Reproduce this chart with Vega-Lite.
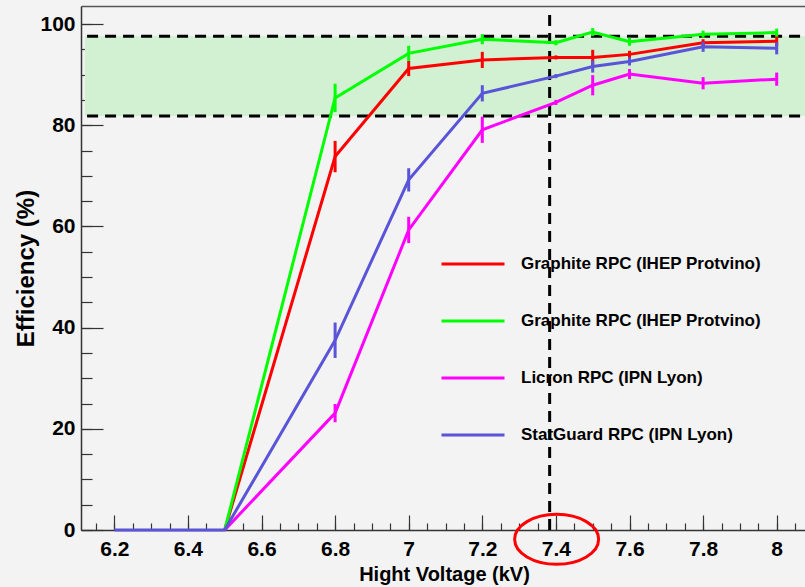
{
  "$schema": "https://vega.github.io/schema/vega-lite/v6.json",
  "width": 724,
  "height": 524,
  "autosize": {"type": "none"},
  "padding": {"left": 81, "top": 6, "right": 0, "bottom": 57},
  "background": "#f3f3f3",
  "config": {
    "view": {"stroke": null},
    "font": "Liberation Sans",
    "axis": {"grid": false, "tickColor": "#333", "domainColor": "#333", "labelColor": "#000", "titleColor": "#000", "labelFont": "Liberation Sans", "titleFont": "Liberation Sans"}
  },
  "datasets": {
    "pts": [
      {"s": "G1", "v": 6.5, "eff": 0, "lo": 0, "hi": 0},
      {"s": "G1", "v": 6.8, "eff": 73.8, "lo": 70.7, "hi": 76.9},
      {"s": "G1", "v": 7.0, "eff": 91.2, "lo": 89.7, "hi": 92.7},
      {"s": "G1", "v": 7.2, "eff": 92.9, "lo": 91.3, "hi": 94.5},
      {"s": "G1", "v": 7.4, "eff": 93.4, "lo": 93.0, "hi": 93.8},
      {"s": "G1", "v": 7.5, "eff": 93.4, "lo": 91.9, "hi": 94.9},
      {"s": "G1", "v": 7.6, "eff": 94.0, "lo": 93.3, "hi": 94.7},
      {"s": "G1", "v": 7.8, "eff": 96.3, "lo": 95.6, "hi": 97.0},
      {"s": "G1", "v": 8.0, "eff": 96.6, "lo": 95.6, "hi": 97.6},
      {"s": "G2", "v": 6.5, "eff": 0, "lo": 0, "hi": 0},
      {"s": "G2", "v": 6.8, "eff": 85.4, "lo": 82.6, "hi": 88.2},
      {"s": "G2", "v": 7.0, "eff": 94.2, "lo": 92.7, "hi": 95.7},
      {"s": "G2", "v": 7.2, "eff": 97.0, "lo": 96.0, "hi": 98.0},
      {"s": "G2", "v": 7.4, "eff": 96.3, "lo": 95.8, "hi": 96.8},
      {"s": "G2", "v": 7.5, "eff": 98.4, "lo": 97.6, "hi": 99.2},
      {"s": "G2", "v": 7.6, "eff": 96.5, "lo": 95.7, "hi": 97.3},
      {"s": "G2", "v": 7.8, "eff": 98.0, "lo": 97.3, "hi": 98.7},
      {"s": "G2", "v": 8.0, "eff": 98.3, "lo": 97.5, "hi": 99.1},
      {"s": "L", "v": 6.5, "eff": 0, "lo": 0, "hi": 0},
      {"s": "L", "v": 6.8, "eff": 23.1, "lo": 21.3, "hi": 24.9},
      {"s": "L", "v": 7.0, "eff": 59.3, "lo": 56.7, "hi": 61.9},
      {"s": "L", "v": 7.2, "eff": 79.1, "lo": 76.5, "hi": 81.7},
      {"s": "L", "v": 7.4, "eff": 84.5, "lo": 84.0, "hi": 85.0},
      {"s": "L", "v": 7.5, "eff": 87.9, "lo": 85.9, "hi": 89.9},
      {"s": "L", "v": 7.6, "eff": 90.1, "lo": 89.1, "hi": 91.1},
      {"s": "L", "v": 7.8, "eff": 88.3, "lo": 87.1, "hi": 89.5},
      {"s": "L", "v": 8.0, "eff": 89.1, "lo": 87.8, "hi": 90.4},
      {"s": "S", "v": 6.2, "eff": 0, "lo": 0, "hi": 0},
      {"s": "S", "v": 6.5, "eff": 0, "lo": 0, "hi": 0},
      {"s": "S", "v": 6.8, "eff": 37.5, "lo": 34.0, "hi": 41.0},
      {"s": "S", "v": 7.0, "eff": 69.2, "lo": 66.9, "hi": 71.5},
      {"s": "S", "v": 7.2, "eff": 86.3, "lo": 84.7, "hi": 87.9},
      {"s": "S", "v": 7.4, "eff": 89.7, "lo": 89.3, "hi": 90.1},
      {"s": "S", "v": 7.5, "eff": 91.6, "lo": 90.4, "hi": 92.8},
      {"s": "S", "v": 7.6, "eff": 92.6, "lo": 91.8, "hi": 93.4},
      {"s": "S", "v": 7.8, "eff": 95.5, "lo": 94.5, "hi": 96.5},
      {"s": "S", "v": 8.0, "eff": 95.2, "lo": 94.0, "hi": 96.4}
    ],
    "band": [{"x1": 6.12, "x2": 8.0769, "y1": 81.8, "y2": 97.6}],
    "hl": [{"x1": 6.126, "x2": 8.0769, "y": 97.6}, {"x1": 6.126, "x2": 8.0769, "y": 81.8}],
    "vl": [{"x": 7.383, "y1": 0, "y2": 103.0}],
    "mark": [{"x": 7.402, "y": -1.84}]
  },
  "resolve": {"axis": {"x": "independent", "y": "independent"}},
  "layer": [
    {
      "data": {"name": "band"},
      "mark": {"type": "rect", "color": "#d2f0d2"},
      "encoding": {
        "x": {"field": "x1", "type": "quantitative", "scale": {"domain": [6.1095, 8.0769], "nice": false, "zero": false},
          "axis": {"orient": "bottom", "values": [6.15,6.2,6.25,6.3,6.35,6.4,6.45,6.5,6.55,6.6,6.65,6.7,6.75,6.8,6.85,6.9,6.95,7.0,7.05,7.1,7.15,7.2,7.25,7.3,7.35,7.4,7.45,7.5,7.55,7.6,7.65,7.7,7.75,7.8,7.85,7.9,7.95,8.0,8.05],
            "tickSize": -7, "tickWidth": 1.2, "labels": false, "domain": false, "title": null}},
        "x2": {"field": "x2"},
        "y": {"field": "y1", "type": "quantitative", "scale": {"domain": [0, 103.56], "nice": false, "zero": false},
          "axis": {"orient": "left", "values": [0,5,10,15,20,25,30,35,40,45,50,55,60,65,70,75,80,85,90,95,100],
            "tickSize": -11, "tickWidth": 1.2, "labels": false, "domain": false, "title": null}},
        "y2": {"field": "y2"}
      }
    },
    {
      "data": {"name": "hl"},
      "mark": {"type": "rule", "color": "#000", "strokeWidth": 3, "strokeDash": [11, 7]},
      "encoding": {
        "x": {"field": "x1", "type": "quantitative", "scale": {"domain": [6.1095, 8.0769], "nice": false, "zero": false},
          "axis": {"orient": "top", "ticks": false, "labels": false, "domain": true, "domainColor": "#555", "domainWidth": 1.5, "title": null}},
        "x2": {"field": "x2"},
        "y": {"field": "y", "type": "quantitative", "scale": {"domain": [0, 103.56], "nice": false, "zero": false}, "axis": null}
      }
    },
    {
      "data": {"name": "vl"},
      "mark": {"type": "rule", "color": "#000", "strokeWidth": 3, "strokeDash": [11, 7]},
      "encoding": {
        "x": {"field": "x", "type": "quantitative", "scale": {"domain": [6.1095, 8.0769], "nice": false, "zero": false}, "axis": null},
        "y": {"field": "y1", "type": "quantitative", "scale": {"domain": [0, 103.56], "nice": false, "zero": false}, "axis": null},
        "y2": {"field": "y2"}
      }
    },
    {
      "data": {"name": "pts"},
      "mark": {"type": "line", "strokeWidth": 3},
      "encoding": {
        "x": {"field": "v", "type": "quantitative", "scale": {"domain": [6.1095, 8.0769], "nice": false, "zero": false},
          "axis": {"orient": "bottom", "values": [6.2,6.4,6.6,6.8,7.0,7.2,7.4,7.6,7.8,8.0], "format": "~g",
            "tickSize": -15, "tickWidth": 1.2, "labelPadding": 40, "labelBaseline": "alphabetic", "labelFontSize": 21, "labelFontWeight": "bold",
            "domainWidth": 1.5, "title": "Hight Voltage (kV)", "titleFontSize": 20, "titleFontWeight": "bold",
            "titleX": 363, "titleY": 50, "titleBaseline": "alphabetic", "titleAlign": "center"}},
        "y": {"field": "eff", "type": "quantitative", "scale": {"domain": [0, 103.56], "nice": false, "zero": false},
          "axis": {"orient": "left", "values": [0,20,40,60,80,100],
            "tickSize": -22, "tickWidth": 1.2, "labelPadding": 28, "labelFontSize": 21, "labelFontWeight": "bold", "labelBaseline": "middle",
            "domainWidth": 1.5, "title": "Efficiency (%)", "titleFontSize": 24, "titleFontWeight": "bold",
            "titleX": -48, "titleY": 262, "titleBaseline": "alphabetic", "titleAngle": -90, "titleAlign": "center"}},
        "color": {"field": "s", "type": "nominal",
          "scale": {"domain": ["G1", "G2", "L", "S"], "range": ["#ff0000", "#00ff00", "#ff00ff", "#5954d8"]},
          "legend": {"orient": "none", "legendX": 359, "legendY": 225, "title": null,
            "symbolType": "stroke", "symbolSize": 3969, "symbolStrokeWidth": 3, "labelOffset": 15, "labelLimit": 400,
            "labelFontSize": 17, "labelFontWeight": "bold", "labelFont": "Liberation Sans", "labelColor": "#000", "rowPadding": 16,
            "labelExpr": "datum.label == 'L' ? 'Licron RPC (IPN Lyon)' : datum.label == 'S' ? 'StatGuard RPC (IPN Lyon)' : 'Graphite RPC (IHEP Protvino)'"}},
        "order": {"field": "v", "type": "quantitative"}
      }
    },
    {
      "data": {"name": "pts"},
      "mark": {"type": "rule", "strokeWidth": 3},
      "encoding": {
        "x": {"field": "v", "type": "quantitative", "scale": {"domain": [6.1095, 8.0769], "nice": false, "zero": false}, "axis": null},
        "y": {"field": "lo", "type": "quantitative", "scale": {"domain": [0, 103.56], "nice": false, "zero": false}, "axis": null},
        "y2": {"field": "hi"},
        "color": {"field": "s", "type": "nominal", "legend": null}
      }
    },
    {
      "data": {"name": "mark"},
      "mark": {"type": "point", "shape": "M-1,0A1,0.595,0,1,1,1,0A1,0.595,0,1,1,-1,0Z", "size": 7056, "filled": false, "stroke": "#ff0000", "strokeWidth": 3, "opacity": 1},
      "encoding": {
        "x": {"field": "x", "type": "quantitative", "scale": {"domain": [6.1095, 8.0769], "nice": false, "zero": false}, "axis": null},
        "y": {"field": "y", "type": "quantitative", "scale": {"domain": [0, 103.56], "nice": false, "zero": false}, "axis": null}
      }
    }
  ]
}
